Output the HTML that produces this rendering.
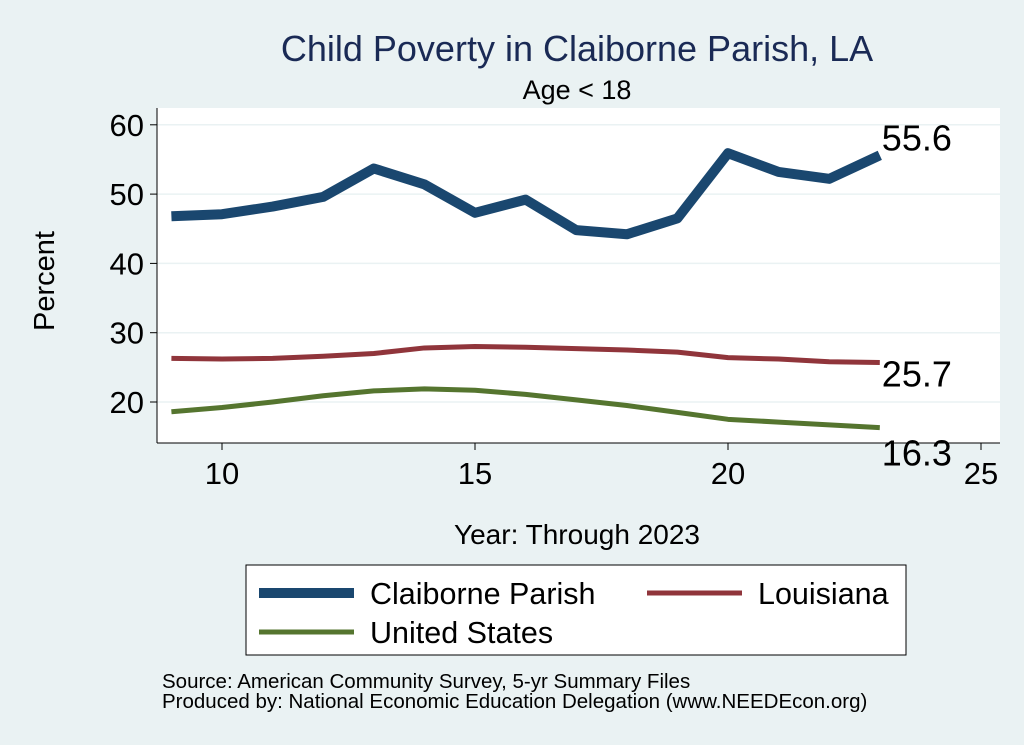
<!DOCTYPE html>
<html><head><meta charset="utf-8"><style>
body{margin:0;background:#eaf2f3;}
svg{display:block;font-family:"Liberation Sans",Arial,sans-serif;}
</style></head><body>
<svg id="c" width="1024" height="745" viewBox="0 0 1024 745">
<rect x="0" y="0" width="1024" height="745" fill="#eaf2f3"/>
<text x="577" y="61" text-anchor="middle" font-size="36" fill="#1a2a55">Child Poverty in Claiborne Parish, LA</text>
<text x="577" y="99" text-anchor="middle" font-size="27" fill="#000">Age &lt; 18</text>
<rect x="157" y="108" width="843" height="335" fill="#fff"/>
<g id="grid"></g>
<g id="axes"></g>
<g id="series"></g>
<text x="54" y="281" text-anchor="middle" font-size="29" transform="rotate(-90 54 281)">Percent</text>
<text x="577" y="544" text-anchor="middle" font-size="28">Year: Through 2023</text>
<g>
<rect x="246" y="565" width="660" height="90" fill="#fff" stroke="#000" stroke-width="1"/>
<g><line x1="259" y1="593" x2="354" y2="593" stroke="#1a476f" stroke-width="10"/><text x="370" y="604" font-size="30.5">Claiborne Parish</text></g>
<g><line x1="647" y1="593" x2="742" y2="593" stroke="#90353b" stroke-width="5"/><text x="758" y="604" font-size="30.5">Louisiana</text></g>
<g><line x1="259" y1="632" x2="354" y2="632" stroke="#55752f" stroke-width="5"/><text x="370" y="643" font-size="30.5">United States</text></g>
</g>
<text x="162" y="688" font-size="20.5">Source: American Community Survey, 5-yr Summary Files</text>
<text x="162" y="708" font-size="20.5">Produced by: National Economic Education Delegation (www.NEEDEcon.org)</text>
</svg>
<script>
const years=[9,10,11,12,13,14,15,16,17,18,19,20,21,22,23];
const claiborne=[46.8,47.1,48.2,49.6,53.7,51.4,47.3,49.2,44.8,44.2,46.5,55.9,53.2,52.2,55.6];
const louisiana=[26.3,26.2,26.3,26.6,27.0,27.8,28.0,27.9,27.7,27.5,27.2,26.4,26.2,25.8,25.7];
const unitedStates=[18.6,19.2,20.0,20.9,21.6,21.9,21.7,21.1,20.3,19.5,18.5,17.5,17.1,16.7,16.3];
const yTicks=[20,30,40,50,60];
const xTicks=[10,15,20,25];
const NS="http://www.w3.org/2000/svg";
function xs(v){return 222+(v-10)*50.6;}
function ys(v){return 402-(v-20)*6.93;}
function mk(tag,attrs,parent){const e=document.createElementNS(NS,tag);for(const k in attrs)e.setAttribute(k,attrs[k]);parent.appendChild(e);return e;}
const grid=document.getElementById('grid'),axes=document.getElementById('axes'),ser=document.getElementById('series');
yTicks.forEach(t=>{
 const g=mk('line',{x1:157,x2:1000,y1:ys(t),y2:ys(t),stroke:'#eaf2f3','stroke-width':1.5},grid);
 
 
 const tk=mk('line',{x1:150,x2:157,y1:ys(t),y2:ys(t),stroke:'#000'},axes);
 
 
 const tx=mk('text',{x:144,y:ys(t)+11,'text-anchor':'end','font-size':31},axes);
 tx.textContent=t;
 
 
});
xTicks.forEach(t=>{
 const tk=mk('line',{x1:xs(t),x2:xs(t),y1:443,y2:450,stroke:'#000'},axes);
 
 
 const tx=mk('text',{x:xs(t),y:484,'text-anchor':'middle','font-size':31},axes);
 tx.textContent=t;
 
 
});
const ya=mk('line',{x1:157,x2:157,y1:108,y2:443,stroke:'#000'},axes);


const xa=mk('line',{x1:157,x2:1000,y1:443,y2:443,stroke:'#000'},axes);


function line(vals,color,w,name,dy){
 const p=mk('polyline',{points:vals.map((v,i)=>xs(years[i])+','+ys(v)).join(' '),fill:'none',stroke:color,'stroke-width':w,'stroke-linejoin':'round'},ser);
 
 
 const last=vals[vals.length-1];
 const t=mk('text',{x:xs(years[years.length-1])+2,y:ys(last)+dy,'font-size':36},ser);
 t.textContent=last.toFixed(1);
 
 
}
line(louisiana,'#90353b',5,'louisiana-line',24);
line(unitedStates,'#55752f',5,'united-states-line',38);
line(claiborne,'#1a476f',10,'claiborne-line',-5);
</script>
</body></html>
